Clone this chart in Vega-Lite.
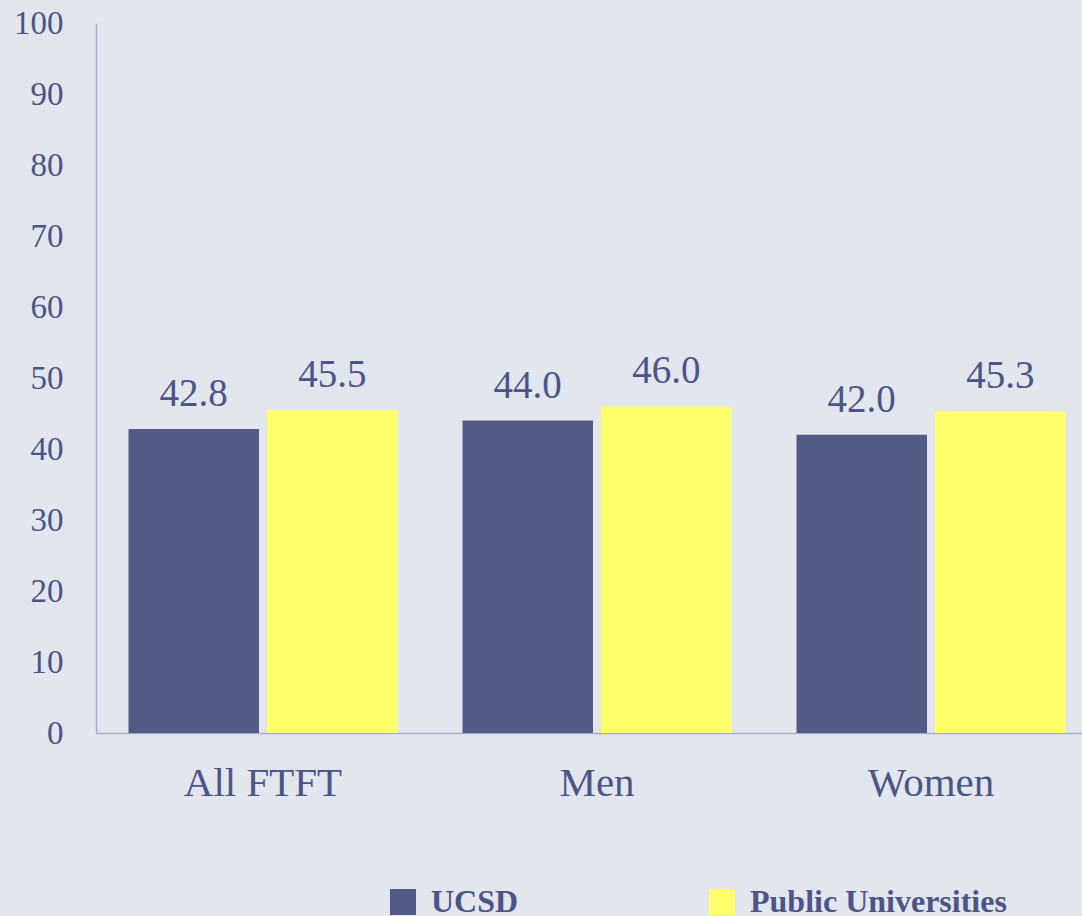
{
  "$schema": "https://vega.github.io/schema/vega-lite/v6.json",
  "autosize": {"type": "none"},
  "padding": {"left": 96, "top": 23, "right": 0, "bottom": 183},
  "width": 986,
  "height": 710,
  "background": "#e2e6ef",
  "config": {"view": {"stroke": null}, "font": "Liberation Serif"},
  "data": {
    "values": [
      {"group": "All FTFT", "series": "UCSD", "value": 42.8},
      {"group": "All FTFT", "series": "Public Universities", "value": 45.5},
      {"group": "Men", "series": "UCSD", "value": 44.0},
      {"group": "Men", "series": "Public Universities", "value": 46.0},
      {"group": "Women", "series": "UCSD", "value": 42.0},
      {"group": "Women", "series": "Public Universities", "value": 45.3}
    ]
  },
  "encoding": {
    "x": {
      "field": "group",
      "type": "nominal",
      "sort": ["All FTFT", "Men", "Women"],
      "scale": {"range": [0, 1002], "paddingInner": 0.1946, "paddingOuter": 0.0973},
      "axis": {
        "title": null,
        "labelAngle": 0,
        "labelFontSize": 41,
        "labelColor": "#4d5586",
        "labelBaseline": "alphabetic",
        "labelPadding": 62,
        "ticks": false,
        "tickSize": 0,
        "domainColor": "#a7abc9",
        "domainWidth": 1.5,
        "grid": false
      }
    },
    "xOffset": {
      "field": "series",
      "type": "nominal",
      "sort": ["UCSD", "Public Universities"],
      "scale": {"paddingInner": 0.0578, "paddingOuter": 0}
    },
    "y": {
      "field": "value",
      "type": "quantitative",
      "scale": {"domain": [0, 100]},
      "axis": {
        "title": null,
        "values": [0, 10, 20, 30, 40, 50, 60, 70, 80, 90, 100],
        "labelFontSize": 33,
        "labelColor": "#4d5586",
        "labelPadding": 33,
        "ticks": false,
        "tickSize": 0,
        "domainColor": "#a7abc9",
        "domainWidth": 1.5,
        "grid": false
      }
    }
  },
  "layer": [
    {
      "mark": {"type": "bar"},
      "encoding": {
        "color": {
          "field": "series",
          "type": "nominal",
          "sort": ["UCSD", "Public Universities"],
          "scale": {"domain": ["UCSD", "Public Universities"], "range": ["#525b88", "#ffff6b"]},
          "legend": {
            "orient": "none",
            "legendX": 291,
            "legendY": 863,
            "direction": "horizontal",
            "columns": 2,
            "columnPadding": 187,
            "symbolType": "square",
            "symbolSize": 676,
            "symbolStrokeWidth": 0,
            "symbolOpacity": 1,
            "labelFontSize": 32,
            "labelFontWeight": "bold",
            "labelColor": "#4d5586",
            "labelOffset": 12,
            "labelLimit": 500,
            "title": null,
            "padding": 0
          }
        }
      }
    },
    {
      "mark": {"type": "text", "baseline": "alphabetic", "dy": -23, "fontSize": 39, "color": "#4d5586"},
      "encoding": {"text": {"field": "value", "type": "quantitative", "format": ".1f"}}
    }
  ]
}
